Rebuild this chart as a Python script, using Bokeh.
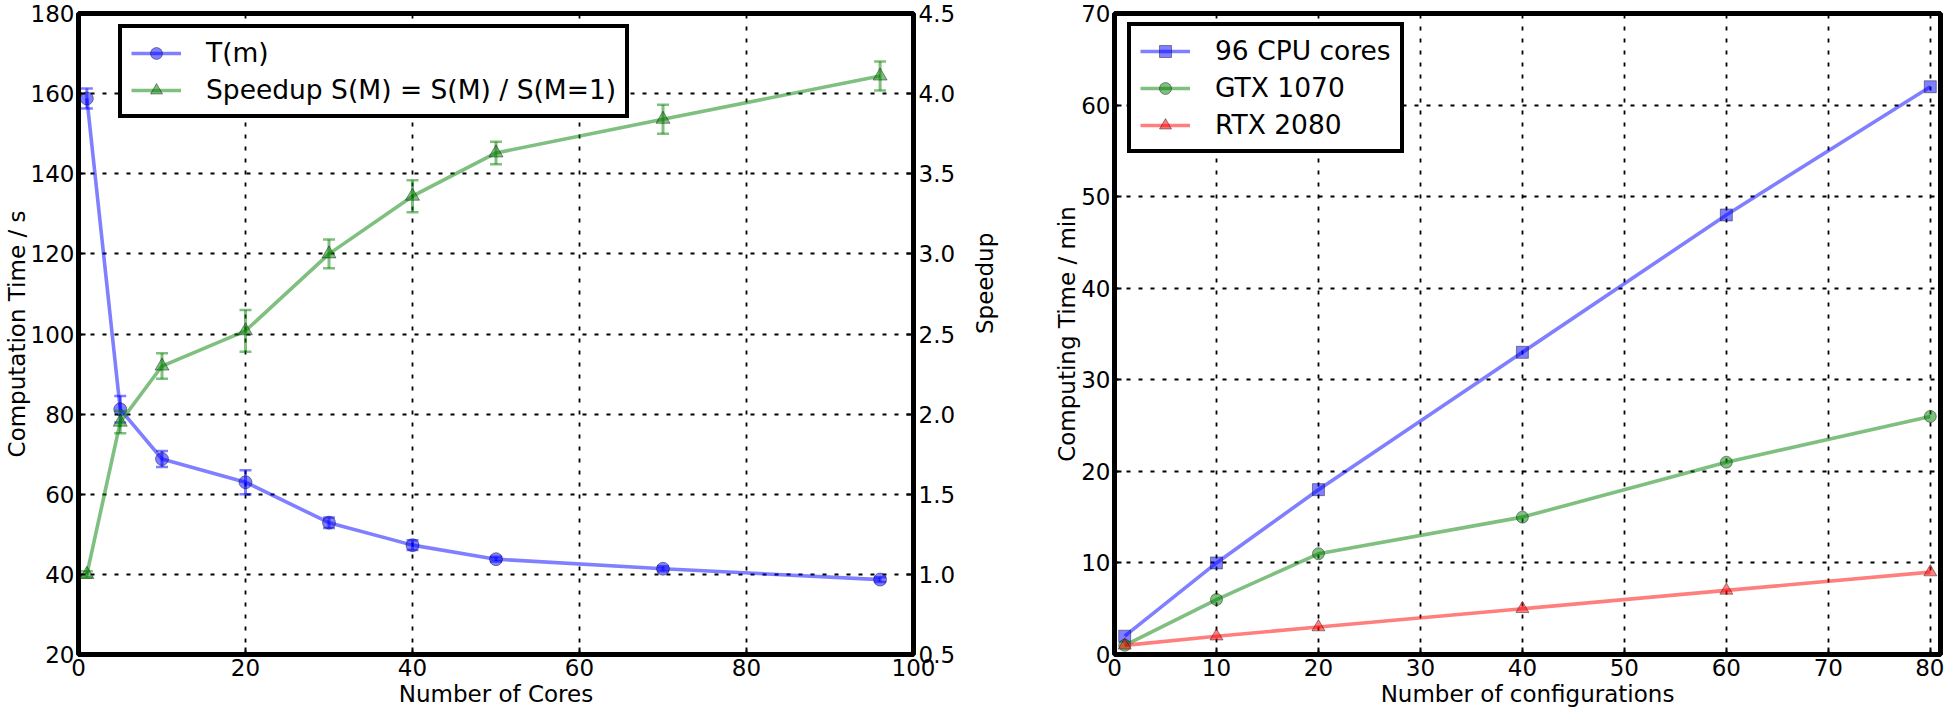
import math
from bokeh.plotting import figure
from bokeh.models import (Range1d, LinearAxis, FixedTicker, PrintfTickFormatter,
                          Legend, LegendItem)
from bokeh.layouts import row
from bokeh.embed import file_html
from bokeh.resources import INLINE

# ---------------- data ----------------
cores = [1, 5, 10, 20, 30, 40, 50, 70, 96]
time_s = [158.8, 81.2, 68.8, 63.0, 52.9, 47.3, 43.8, 41.4, 38.7]
time_err = [2.5, 3.3, 2.0, 3.0, 1.3, 1.2, 0.6, 0.6, 0.6]
speedup = [1.0, 1.95, 2.30, 2.52, 3.00, 3.36, 3.63, 3.84, 4.11]
speedup_err = [0.02, 0.07, 0.08, 0.13, 0.09, 0.10, 0.07, 0.09, 0.09]

configs = [1, 10, 20, 40, 60, 80]
cpu96 = [2, 10, 18, 33, 48, 62]
gtx1070 = [1, 6, 11, 15, 21, 26]
rtx2080 = [1, 2, 3, 5, 7, 9]

left_x_ticks = [0, 20, 40, 60, 80, 100]
left_y_ticks = [20, 40, 60, 80, 100, 120, 140, 160, 180]
speed_ticks = [0.5, 1.0, 1.5, 2.0, 2.5, 3.0, 3.5, 4.0, 4.5]
right_x_ticks = [0, 10, 20, 30, 40, 50, 60, 70, 80]
right_y_ticks = [0, 10, 20, 30, 40, 50, 60, 70]

FONT = "DejaVu Sans"
FS = "23px"
LFS = "26.5px"
BLUE = "#0000ff"
GREEN = "#008000"
RED = "#ff0000"
LW = 3.6
H = 710
W1 = 1018
W2 = 1944 - W1


def style_axis(ax, dim):
    ax.axis_line_color = None
    ax.major_tick_in = 7
    ax.major_tick_out = 0
    ax.minor_tick_line_color = None
    ax.major_tick_line_color = "black"
    ax.major_tick_line_width = 2
    ax.major_label_text_font = FONT
    ax.major_label_text_font_size = FS
    ax.major_label_text_color = "black"
    ax.axis_label_text_font = FONT
    ax.axis_label_text_font_size = FS
    ax.axis_label_text_font_style = "normal"
    ax.axis_label_text_color = "black"
    ax.major_label_text_line_height = 1.0
    ax.axis_label_text_line_height = 1.0
    ax.major_label_standoff = 4
    ax.axis_label_standoff = 2 if dim == "x" else -2


def style_fig(p):
    p.outline_line_color = "black"
    p.outline_line_width = 5
    p.outline_line_alpha = 1.0
    p.background_fill_color = "white"
    p.border_fill_color = "white"
    for g in (p.xgrid, p.ygrid):
        g.grid_line_color = "black"
        g.grid_line_dash = "4 8"
        g.grid_line_width = 1.8


def style_legend(leg):
    leg.label_text_font = FONT
    leg.label_text_font_size = LFS
    leg.label_text_color = "black"
    leg.border_line_color = "black"
    leg.border_line_alpha = 1.0
    leg.border_line_width = 4
    leg.background_fill_color = "white"
    leg.background_fill_alpha = 1.0
    leg.glyph_width = 50
    leg.glyph_height = 30
    leg.label_standoff = 25
    leg.spacing = 6
    leg.padding = 9


# ---------------- left figure ----------------
p1 = figure(width=W1, height=H, x_range=Range1d(0, 100), y_range=Range1d(20, 180),
            output_backend="svg", toolbar_location=None,
            min_border_left=55, min_border_right=W1 - 913, min_border_top=13,
            min_border_bottom=56)
p1.extra_y_ranges = {"speed": Range1d(0.5, 4.5)}
style_fig(p1)
p1.xaxis.ticker = FixedTicker(ticks=left_x_ticks)
p1.yaxis.ticker = FixedTicker(ticks=left_y_ticks)
p1.xgrid.ticker = FixedTicker(ticks=left_x_ticks)
p1.ygrid.ticker = FixedTicker(ticks=left_y_ticks)
p1.xaxis.axis_label = "Number of Cores"
p1.yaxis.axis_label = "Computation Time / s"
for ax in p1.xaxis:
    style_axis(ax, "x")
for ax in p1.yaxis:
    style_axis(ax, "y")

ax_r = LinearAxis(y_range_name="speed", axis_label="Speedup",
                  ticker=FixedTicker(ticks=speed_ticks),
                  formatter=PrintfTickFormatter(format="%.1f"))
style_axis(ax_r, "y")
ax_r.major_label_text_line_height = 1.2
ax_r.axis_label_text_line_height = 1.2
ax_r.major_label_standoff = 5
ax_r.axis_label_orientation = math.pi / 2
ax_r.axis_label_standoff = 27
p1.add_layout(ax_r, "right")

t_lo = [v - e for v, e in zip(time_s, time_err)]
t_hi = [v + e for v, e in zip(time_s, time_err)]
s_lo = [v - e for v, e in zip(speedup, speedup_err)]
s_hi = [v + e for v, e in zip(speedup, speedup_err)]

# T(m)
p1.segment(cores, t_lo, cores, t_hi, line_color=BLUE, line_alpha=0.5, line_width=3)
p1.scatter(cores, t_lo, marker="dash", size=12, line_color=BLUE, line_alpha=0.5, line_width=2.5)
p1.scatter(cores, t_hi, marker="dash", size=12, line_color=BLUE, line_alpha=0.5, line_width=2.5)
l_t = p1.line(cores, time_s, line_color=BLUE, line_alpha=0.5, line_width=LW)
m_t = p1.scatter(cores, time_s, marker="circle", size=13, fill_color=BLUE, fill_alpha=0.5,
                 line_color="black", line_alpha=0.4, line_width=1)

# Speedup
p1.segment(cores, s_lo, cores, s_hi, line_color=GREEN, line_alpha=0.5, line_width=3,
           y_range_name="speed")
p1.scatter(cores, s_lo, marker="dash", size=12, line_color=GREEN, line_alpha=0.5,
           line_width=2.5, y_range_name="speed")
p1.scatter(cores, s_hi, marker="dash", size=12, line_color=GREEN, line_alpha=0.5,
           line_width=2.5, y_range_name="speed")
l_s = p1.line(cores, speedup, line_color=GREEN, line_alpha=0.5, line_width=LW,
              y_range_name="speed")
m_s = p1.scatter(cores, speedup, marker="triangle", size=14, fill_color=GREEN, fill_alpha=0.5,
                 line_color="black", line_alpha=0.4, line_width=1, y_range_name="speed")

leg1 = Legend(items=[LegendItem(label="T(m)", renderers=[l_t, m_t]),
                     LegendItem(label="Speedup S(M) = S(M) / S(M=1)", renderers=[l_s, m_s])],
              location=(40, 536))
style_legend(leg1)
p1.add_layout(leg1)

# ---------------- right figure ----------------
p2 = figure(width=W2, height=H, x_range=Range1d(0, 81), y_range=Range1d(0, 70),
            output_backend="svg", toolbar_location=None,
            min_border_left=96, min_border_right=4, min_border_top=13,
            min_border_bottom=56)
style_fig(p2)
p2.xaxis.ticker = FixedTicker(ticks=right_x_ticks)
p2.yaxis.ticker = FixedTicker(ticks=right_y_ticks)
p2.xgrid.ticker = FixedTicker(ticks=right_x_ticks)
p2.ygrid.ticker = FixedTicker(ticks=right_y_ticks)
p2.xaxis.axis_label = "Number of configurations"
p2.yaxis.axis_label = "Computing Time / min"
for ax in p2.xaxis:
    style_axis(ax, "x")
for ax in p2.yaxis:
    style_axis(ax, "y")

items = []
for name, vals, col, mk, sz in [("96 CPU cores", cpu96, BLUE, "square", 12),
                                ("GTX 1070", gtx1070, GREEN, "circle", 12),
                                ("RTX 2080", rtx2080, RED, "triangle", 13)]:
    ln = p2.line(configs, vals, line_color=col, line_alpha=0.5, line_width=LW)
    mr = p2.scatter(configs, vals, marker=mk, size=sz, fill_color=col, fill_alpha=0.5,
                    line_color="black", line_alpha=0.4, line_width=1)
    items.append(LegendItem(label=name, renderers=[ln, mr]))

leg2 = Legend(items=items, location=(13, 501))
style_legend(leg2)
p2.add_layout(leg2)

layout = row(p1, p2)
open("out.html", "w").write(file_html(layout, INLINE))
